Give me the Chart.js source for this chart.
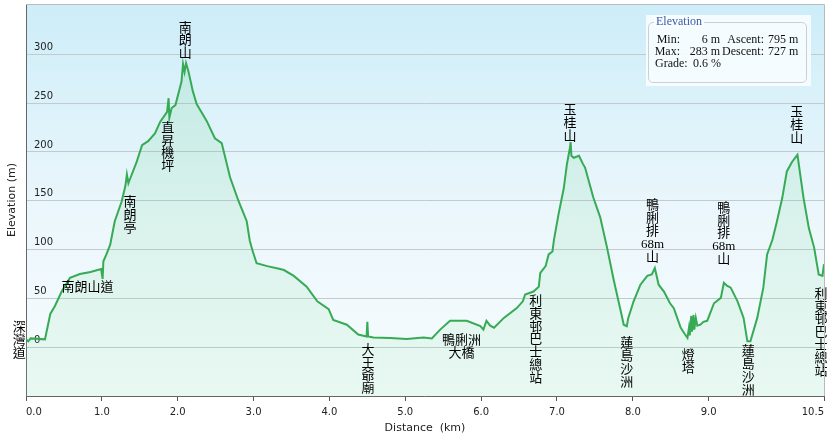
<!DOCTYPE html>
<html>
<head>
<meta charset="utf-8">
<script src="https://cdn.jsdelivr.net/npm/chart.js@4.4.1/dist/chart.umd.min.js"></script>
<style>
  body { margin: 0; background: #fff; }
  #wrap { position: relative; width: 830px; height: 442px; }
  #info {
    position: absolute; left: 646px; top: 15px; width: 165px; height: 71px;
    background: rgba(248, 253, 255, 0.9);
    font: 12px "Liberation Serif", "Times New Roman", serif; color: #111;
  }
  #info .fs {
    position: absolute; left: 2px; top: 7px; width: 157px; height: 59px;
    border: 1px solid #c9cfd2; border-radius: 5px;
  }
  #info .lg {
    position: absolute; left: 8px; top: 0px; padding: 0 2px;
    background: rgba(248, 253, 255, 1); color: #3a5aa8; line-height: 13px;
  }
  #info span.c { position: absolute; white-space: pre; line-height: 12px; }
  #info span.r { text-align: right; }
</style>
</head>
<body>
<div id="wrap">
  <canvas id="chart" width="830" height="442"></canvas>
  <div id="info">
    <div class="fs"></div>
    <div class="lg">Elevation</div>
  </div>
</div>
<script>
// 距離 (km) 同 海拔 (m)
const distKm = [0.00, 0.03, 0.06, 0.25, 0.32, 0.38, 0.47, 0.58, 0.71, 0.85, 0.99, 1.01, 1.02, 1.06, 1.11, 1.17,
  1.26, 1.31, 1.33, 1.35, 1.37, 1.46, 1.53, 1.61, 1.70, 1.77, 1.86, 1.88, 1.89, 1.92, 1.97, 2.05, 2.07, 2.09,
  2.11, 2.14, 2.20, 2.25, 2.38, 2.49, 2.58, 2.69, 2.80, 2.91, 2.95, 2.99, 3.04, 3.18, 3.35, 3.40, 3.53, 3.70,
  3.84, 3.99, 4.05, 4.23, 4.38, 4.49, 4.50, 4.51, 4.58, 4.80, 5.02, 5.24, 5.35, 5.46, 5.59, 5.81, 5.99, 6.03,
  6.07, 6.12, 6.17, 6.30, 6.47, 6.55, 6.58, 6.69, 6.76, 6.78, 6.85, 6.89, 6.94, 6.96, 7.02, 7.09, 7.13, 7.17,
  7.18, 7.19, 7.22, 7.29, 7.34, 7.37, 7.48, 7.57, 7.66, 7.75, 7.84, 7.88, 7.92, 7.94, 8.01, 8.10, 8.19, 8.25,
  8.29, 8.34, 8.41, 8.49, 8.54, 8.63, 8.68, 8.72, 8.74, 8.75, 8.77, 8.78, 8.80, 8.81, 8.83, 8.85, 8.89, 8.93,
  8.98, 9.07, 9.16, 9.20, 9.24, 9.29, 9.38, 9.46, 9.51, 9.55, 9.64, 9.72, 9.77, 9.84, 9.90, 9.97, 10.03, 10.10,
  10.17, 10.25, 10.32, 10.39, 10.45, 10.50, 10.52];
const elevM = [8, 6, 9, 8, 34, 42, 57, 71, 75, 77, 80, 70, 88, 95, 105, 129,
  149, 165, 177, 168, 172, 190, 207, 211, 219, 231, 241, 255, 235, 245, 248, 272, 290, 282,
  291, 283, 262, 249, 232, 214, 209, 174, 150, 129, 109, 98, 86, 83, 80, 79, 73, 62,
  47, 39, 28, 23, 13, 11, 26, 11, 10, 9.5, 8.5, 10, 9, 18, 27, 27, 21.5, 18,
  27, 22, 20, 30, 40, 47, 54, 57, 62, 76, 83, 95, 98, 110, 136, 163, 187, 204,
  210, 196, 194, 196, 188, 184, 153, 133, 102, 68, 37, 23, 21.5, 30, 47, 64, 73, 74.5,
  81, 64, 57, 45, 40, 20, 14, 9.5, 20, 12, 32, 16, 33, 18, 30, 22, 23, 26,
  27, 45, 50.5, 66, 63, 61, 47, 30, 6, 6, 30, 61, 95, 110, 129, 153, 180, 190,
  197, 153, 122, 102, 74.5, 73, 85];

// 軸範圍同刻度
const xMax = 10.52;
const xTickValues = [0, 1, 2, 3, 4, 5, 6, 7, 8, 9, xMax];
const yMin = -50;
const yMax = 351.5;
const yTickValues = [-50, 0, 50, 100, 150, 200, 250, 300];

// 地點標籤: 文字每行, 錨點 (km, m) 係文字頂部中間
const placeNames = [
  ['深', '灣', '道'],
  ['南朗山道'],
  ['南', '朗', '亭'],
  ['直', '昇', '機', '坪'],
  ['南', '朗', '山'],
  ['大', '王', '爺', '廟'],
  ['鴨脷洲', '大橋'],
  ['利', '東', '邨', '巴', '士', '總', '站'],
  ['玉', '桂', '山'],
  ['蓮', '島', '沙', '洲'],
  ['鴨', '脷', '排', '68m', '山'],
  ['燈', '塔'],
  ['鴨', '脷', '排', '68m', '山'],
  ['蓮', '島', '沙', '洲'],
  ['玉', '桂', '山'],
  ['利', '東', '邨', '巴', '士', '總', '站']
];
const placeKm = [-0.09, 0.81, 1.37, 1.87, 2.10, 4.51, 5.74, 6.72, 7.17, 7.92, 8.26, 8.73, 9.20, 9.52, 10.16, 10.48];
const placeM = [26.6, 67.6, 154.7, 230.8, 333.3, 3.4, 13, 53.3, 248.9, 10.2, 151.3, -2.4, 148.9, 2, 246.5, 60.8];

// 統計框
const statRows = [
  ['Min:', '6 m', 'Ascent:', '795 m'],
  ['Max:', '283 m', 'Descent:', '727 m']
];
const gradeText = ['Grade:', '0.6 %'];

// ===== 統計框 (HTML) =====
(function () {
  const box = document.getElementById('info');
  function addSpan(txt, left, top, width, right) {
    const s = document.createElement('span');
    s.className = 'c' + (right ? ' r' : '');
    s.textContent = txt;
    s.style.left = left + 'px';
    s.style.top = top + 'px';
    if (width) s.style.width = width + 'px';
    box.appendChild(s);
  }
  statRows.forEach(function (row, i) {
    const top = 18 + i * 12;
    addSpan(row[0], 8, top, 26, true);
    addSpan(row[1], 36, top, 38, true);
    addSpan(row[2], 74, top, 44, true);
    addSpan(row[3], 122, top, 0, false);
  });
  addSpan(gradeText[0], 9, 42, 0, false);
  addSpan(gradeText[1], 47, 42, 0, false);
})();

// ===== 背景同外框 =====
const plotFrame = {
  id: 'plotFrame',
  beforeDatasetsDraw(chart) {
    const { ctx, chartArea: a } = chart;
    const g = ctx.createLinearGradient(0, a.top, 0, a.bottom);
    g.addColorStop(0, '#cdedf8');
    g.addColorStop(0.55, '#ecf7fc');
    g.addColorStop(1, '#f6fcfd');
    ctx.save();
    ctx.globalCompositeOperation = 'destination-over';
    ctx.fillStyle = g;
    ctx.fillRect(a.left, a.top, a.right - a.left, a.bottom - a.top);
    ctx.restore();
  },
  afterDraw(chart) {
    const { ctx, chartArea: a } = chart;
    ctx.save();
    ctx.strokeStyle = '#b4bcc0';
    ctx.lineWidth = 1;
    ctx.beginPath();
    ctx.moveTo(a.left, a.top + 0.5);
    ctx.lineTo(a.right + 0.5, a.top + 0.5);
    ctx.lineTo(a.right + 0.5, a.bottom);
    ctx.stroke();
    ctx.restore();
  }
};

// ===== 地點文字 =====
const placeLabels = {
  id: 'placeLabels',
  afterDatasetsDraw(chart) {
    const { ctx, scales } = chart;
    ctx.save();
    ctx.fillStyle = '#000';
    ctx.font = '13px "Liberation Serif", "Noto Sans CJK TC", serif';
    ctx.textAlign = 'center';
    ctx.textBaseline = 'top';
    placeNames.forEach(function (lines, i) {
      const px = scales.x.getPixelForValue(placeKm[i]);
      const py = scales.y.getPixelForValue(placeM[i]);
      lines.forEach(function (t, j) {
        ctx.fillText(t, px, py + j * 12.8);
      });
    });
    ctx.restore();
  }
};

const points = distKm.map(function (d, i) { return { x: d, y: elevM[i] }; });

new Chart(document.getElementById('chart'), {
  type: 'line',
  data: {
    datasets: [{
      data: points,
      borderColor: '#36aa55',
      borderWidth: 2,
      pointRadius: 0,
      tension: 0,
      fill: 'start',
      backgroundColor: function (context) {
        const a = context.chart.chartArea;
        if (!a) return 'rgba(60,180,90,0.12)';
        const g = context.chart.ctx.createLinearGradient(0, a.top, 0, a.bottom);
        g.addColorStop(0, 'rgba(90,200,120,0.17)');
        g.addColorStop(1, 'rgba(120,220,150,0.11)');
        return g;
      }
    }]
  },
  options: {
    responsive: false,
    animation: false,
    devicePixelRatio: 1,
    layout: { padding: { top: 4, right: 6, left: 0, bottom: 0 } },
    plugins: { legend: { display: false }, tooltip: { enabled: false } },
    scales: {
      x: {
        type: 'linear',
        min: 0,
        max: xMax,
        afterBuildTicks: function (axis) {
          axis.ticks = xTickValues.map(function (v) { return { value: v }; });
        },
        afterFit: function (axis) {
          axis.height = 46;
          axis.paddingLeft = 0;
          axis.paddingRight = 0;
        },
        grid: { drawOnChartArea: false, drawTicks: true, tickLength: 5, color: '#555' },
        border: { display: true, color: '#666', width: 1 },
        ticks: {
          align: 'inner',
          padding: 5,
          maxRotation: 0,
          autoSkip: false,
          color: '#222',
          font: { family: '"DejaVu Sans", sans-serif', size: 10 },
          callback: function (v) { return Number(v).toFixed(1); }
        },
        title: {
          display: true,
          text: 'Distance  (km)',
          color: '#222',
          font: { family: '"DejaVu Sans", sans-serif', size: 11 },
          padding: { top: 4, bottom: 7 }
        }
      },
      y: {
        min: yMin,
        max: yMax,
        afterBuildTicks: function (axis) {
          axis.ticks = yTickValues.map(function (v) { return { value: v }; });
        },
        afterFit: function (axis) {
          axis.width = 26;
          axis.paddingTop = 0;
          axis.paddingBottom = 0;
        },
        grid: { color: '#c3cacd', drawTicks: false },
        border: { display: true, color: '#666', width: 1 },
        ticks: {
          mirror: true,
          padding: 8,
          labelOffset: -7,
          color: '#222',
          font: { family: '"DejaVu Sans", sans-serif', size: 10 },
          callback: function (v) { return v < 0 ? '' : String(v); }
        },
        title: {
          display: true,
          text: 'Elevation (m)',
          color: '#222',
          font: { family: '"DejaVu Sans", sans-serif', size: 11 },
          padding: { top: 6, bottom: 0 }
        }
      }
    }
  },
  plugins: [plotFrame, placeLabels]
});
</script>
</body>
</html>
